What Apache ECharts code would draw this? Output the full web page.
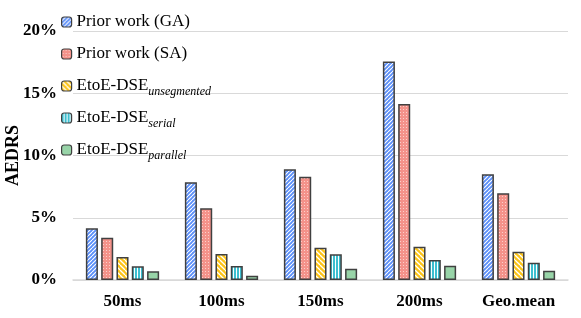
<!DOCTYPE html>
<html><head><meta charset="utf-8">
<script src="https://cdn.jsdelivr.net/npm/echarts@6/dist/echarts.min.js"></script>
<style>html,body{margin:0;padding:0;background:#fff}#c{width:581px;height:318px}</style>
</head><body><div id="c"></div>
<script>
const categories = ['50ms', '100ms', '150ms', '200ms', 'Geo.mean'];
const seriesNames = ['Prior work (GA)', 'Prior work (SA)', 'EtoE-DSE{sub|unsegmented}', 'EtoE-DSE{sub|serial}', 'EtoE-DSE{sub|parallel}'];
const priorGA = [4.15, 7.85, 8.9, 17.56, 8.49];
const priorSA = [3.40, 5.76, 8.30, 14.14, 6.96];
const unsegmented = [1.85, 2.09, 2.60, 2.68, 2.27];
const serial = [1.10, 1.12, 2.06, 1.61, 1.39];
const parallel = [0.70, 0.35, 0.91, 1.15, 0.75];
const yTicks = [0, 5, 10, 15, 20];

function pat(w, h, bg, draw) {
  const c = document.createElement('canvas'); c.width = w; c.height = h;
  const g = c.getContext('2d'); g.fillStyle = bg; g.fillRect(0, 0, w, h);
  draw(g, w, h); return { image: c, repetition: 'repeat' };
}
function diag(g, s, dir, col, lw) {
  g.strokeStyle = col; g.lineWidth = lw;
  for (let k = -2; k <= 2; k++) {
    g.beginPath();
    if (dir > 0) { g.moveTo(k * s, s); g.lineTo(k * s + s, 0); }
    else { g.moveTo(k * s, 0); g.lineTo(k * s + s, s); }
    g.stroke();
  }
}
const fills = [
  pat(4, 4, '#5b8ff9', (g, w) => diag(g, w, 1, '#ffffff', 1.1)),
  pat(3, 3, '#f4928a', (g) => { g.fillStyle = '#fbd0cb'; g.fillRect(1, 1, 1, 1); }),
  pat(5, 5, '#fcc419', (g, w) => diag(g, w, -1, '#ffffff', 1.3)),
  pat(3, 3, '#3dbfd0', (g) => { g.fillStyle = '#ffffff'; g.fillRect(2, 0, 1, 3); }),
  '#98d4a8'
];
const datas = [priorGA, priorSA, unsegmented, serial, parallel];
const FONT = '"Liberation Serif", "Times New Roman", serif';

const chart = echarts.init(document.getElementById('c'), null, { renderer: 'canvas' });
chart.setOption({
  animation: false,
  backgroundColor: '#fff',
  grid: { left: 73, right: 13, top: 31, bottom: 38, containLabel: false, outerBoundsMode: 'none' },
  legend: {
    orient: 'vertical', left: 56, top: 5,
    itemWidth: 10, itemHeight: 10, itemGap: 8,
    data: seriesNames,
    textStyle: {
      fontFamily: FONT, fontSize: 17, color: '#000', lineHeight: 24,
      rich: { sub: { fontFamily: FONT, fontSize: 12, fontStyle: 'italic', color: '#000', lineHeight: 12, verticalAlign: 'bottom' } }
    },
    itemStyle: { borderColor: '#404040', borderWidth: 1.2 }
  },
  xAxis: {
    type: 'category', data: categories,
    axisLine: { lineStyle: { color: '#d9d9d9', width: 1.5 } },
    axisTick: { show: false },
    axisLabel: { fontFamily: FONT, fontSize: 17, fontWeight: 'bold', color: '#000', margin: 13 }
  },
  yAxis: {
    type: 'value', min: yTicks[0], max: yTicks[yTicks.length - 1], interval: 5,
    name: 'AEDRS', nameLocation: 'middle', nameGap: 51, nameMoveOverlap: false,
    nameTextStyle: { fontFamily: FONT, fontSize: 18, fontWeight: 'bold', color: '#000' },
    axisLine: { show: false }, axisTick: { show: false },
    splitLine: { lineStyle: { color: '#d9d9d9', width: 1.2 } },
    axisLabel: { fontFamily: FONT, fontSize: 17, fontWeight: 'bold', color: '#000', margin: 16, formatter: '{value}%' }
  },
  series: datas.map((d, i) => ({
    name: seriesNames[i], type: 'bar', data: d,
    barCategoryGap: '26%', barGap: '27%',
    itemStyle: { color: fills[i], borderColor: '#404040', borderWidth: 1.5 }
  }))
});
</script></body></html>
